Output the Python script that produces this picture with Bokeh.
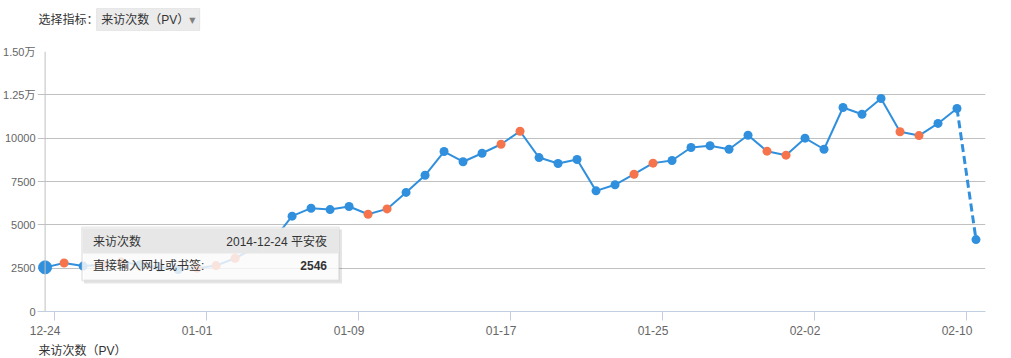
from bokeh.plotting import figure
from bokeh.layouts import column
from bokeh.models import FixedTicker, Span, BoxAnnotation, Label, ColumnDataSource
from bokeh.embed import file_html
from bokeh.resources import INLINE

# ---------------- data ----------------
dates = ["12-24", "12-25", "12-26", "12-27", "12-28", "12-29", "12-30", "12-31",
         "01-01", "01-02", "01-03", "01-04", "01-05", "01-06", "01-07", "01-08",
         "01-09", "01-10", "01-11", "01-12", "01-13", "01-14", "01-15", "01-16",
         "01-17", "01-18", "01-19", "01-20", "01-21", "01-22", "01-23", "01-24",
         "01-25", "01-26", "01-27", "01-28", "01-29", "01-30", "01-31", "02-01",
         "02-02", "02-03", "02-04", "02-05", "02-06", "02-07", "02-08", "02-09",
         "02-10", "02-11"]
pv = [2546, 2800, 2620, 2700, 2850, 2700, 2550, 2420,
      2500, 2650, 3070, 3650, 4100, 5500, 5960, 5880,
      6060, 5610, 5920, 6870, 7860, 9230, 8640, 9130,
      9650, 10400, 8880, 8540, 8770, 6960, 7310, 7920,
      8560, 8710, 9460, 9560, 9360, 10170, 9250, 9020,
      10000, 9360, 11770, 11380, 12290, 10370, 10150, 10850,
      11710, 4150]
# 1 = weekend / holiday (orange point), 0 = working day (blue point)
holiday = [0, 1, 0, 1, 1, 0, 0, 0,
           1, 1, 1, 0, 0, 0, 0, 0,
           0, 1, 1, 0, 0, 0, 0, 0,
           1, 1, 0, 0, 0, 0, 0, 1,
           1, 0, 0, 0, 0, 0, 1, 1,
           0, 0, 0, 0, 0, 1, 1, 0,
           0, 0]
x_tick_index = [0, 8, 16, 24, 32, 40, 48]
y_ticks = [0, 2500, 5000, 7500, 10000, 12500, 15000]
y_tick_labels = ["0", "2500", "5000", "7500", "10000", "1.25万", "1.50万"]
hover_index = 0
series_name = "来访次数（PV）"
selector_label = "选择指标："
tooltip_title = "来访次数"
tooltip_date = "2014-12-24 平安夜"
tooltip_row = "直接输入网址或书签:"

# ---------------- style ----------------
BLUE = "#3190dd"
ORANGE = "#f6744c"
GRID = "#c0c0c0"
AXIS = "#c0d0e0"
FONT = "Liberation Sans, Noto Sans CJK SC"
W = 1011
TOP_H = 40
MAIN_H = 300
BOT_H = 18
LF = 36.5        # approx frame left (px)
FB = 311         # frame bottom (px from page top)


def blank(h, y0):
    f = figure(width=W, height=h, x_range=(0, W), y_range=(y0 + h, y0),
               output_backend="svg", toolbar_location=None,
               x_axis_type=None, y_axis_type=None,
               min_border_left=0, min_border_right=0, min_border_top=0, min_border_bottom=0)
    f.outline_line_color = None
    f.xgrid.grid_line_color = None
    f.ygrid.grid_line_color = None
    return f


def text_on(fig, x, y, text, align="left", size="12px", color="#333333", style="normal",
            font=FONT, units="data", ref_left=0, ref_bottom=0):
    if units == "data":
        xx, yy = x, y
    else:
        xx, yy = x - ref_left, ref_bottom - y
    fig.add_layout(Label(x=xx, y=yy, x_units=units, y_units=units, text=text,
                         text_align=align, text_baseline="middle", text_font=font,
                         text_font_size=size, text_color=color, text_font_style=style))


# ---------------- top: metric selector ----------------
top = blank(TOP_H, 0)
top.add_layout(BoxAnnotation(left=63, right=173, top=8, bottom=30, fill_color="#ebebeb",
                             fill_alpha=1, line_color="#c6c6c6", line_width=1))
text_on(top, 1, 19, selector_label)
text_on(top, 68, 19, series_name)
text_on(top, 165, 20, "▼", align="center", size="8px", color="#808080", font="DejaVu Sans")

# ---------------- main chart ----------------
xs = list(range(len(dates)))
colors = [ORANGE if h else BLUE for h in holiday]
src = ColumnDataSource(dict(x=xs, y=pv, c=colors))

p = figure(width=W, height=MAIN_H, x_range=(-0.4, len(dates) - 0.5), y_range=(0, 15000),
           output_backend="svg", toolbar_location=None,
           min_border_left=35, min_border_right=26, min_border_top=11, min_border_bottom=29)
p.outline_line_color = None
p.xgrid.grid_line_color = None
p.ygrid.grid_line_color = GRID
p.ygrid.grid_line_width = 1

ya = p.yaxis[0]
ya.ticker = FixedTicker(ticks=y_ticks)
ya.major_label_overrides = {t: l for t, l in zip(y_ticks, y_tick_labels)}
ya.axis_line_color = None
ya.major_tick_line_color = None
ya.minor_tick_line_color = None
ya.major_tick_out = 0
ya.major_tick_in = 0
ya.major_label_standoff = 2
ya.major_label_text_font = FONT
ya.major_label_text_font_size = "11px"
ya.major_label_text_color = "#666666"

xa = p.xaxis[0]
xa.ticker = FixedTicker(ticks=x_tick_index, minor_ticks=[i + 0.5 for i in x_tick_index])
xa.major_label_overrides = {i: dates[i] for i in x_tick_index}
xa.axis_line_color = AXIS
xa.major_tick_line_color = None
xa.major_tick_out = 0
xa.major_tick_in = 0
xa.minor_tick_line_color = AXIS
xa.minor_tick_out = 9
xa.minor_tick_in = 0
xa.major_label_standoff = 5
xa.major_label_text_font = FONT
xa.major_label_text_font_size = "12px"
xa.major_label_text_color = "#666666"

# crosshair at hovered category
p.add_layout(Span(location=xs[hover_index], dimension="height", line_color=GRID, line_width=1))

p.line(xs[:-1], pv[:-1], line_color=BLUE, line_width=2)
p.line(xs[-2:], pv[-2:], line_color=BLUE, line_width=3, line_dash="8 4")
p.scatter("x", "y", source=src, size=9, fill_color="c", line_color="c", line_width=0)
p.scatter([xs[hover_index]], [pv[hover_index]], size=13, fill_color=BLUE, line_color=BLUE)


# tooltip (screen units relative to the frame)
def box(l, r, t, b, **kw):
    return BoxAnnotation(left=l - LF, right=r - LF, top=FB - t, bottom=FB - b,
                         left_units="screen", right_units="screen",
                         top_units="screen", bottom_units="screen", **kw)


p.add_layout(box(83, 341, 229, 283, fill_color="#000000", fill_alpha=0.10, line_color=None))
p.add_layout(box(81, 338, 227, 280, fill_color="white", fill_alpha=0.82,
                 line_color="#bcbcbc", line_width=2))
p.add_layout(box(82, 337, 228, 253, fill_color="#e6e6e6", fill_alpha=0.95, line_color=None))


def tip(x, y, text, **kw):
    text_on(p, x, y, text, units="screen", ref_left=LF, ref_bottom=FB, **kw)


tip(92, 241, tooltip_title)
tip(326, 241, tooltip_date, align="right")
tip(92, 265, tooltip_row)
tip(326, 265, str(pv[hover_index]), align="right", style="bold")

# ---------------- bottom: series label ----------------
bot = blank(BOT_H, TOP_H + MAIN_H)
text_on(bot, 1, 350, series_name)

layout = column(top, p, bot, spacing=0)
open("out.html", "w").write(file_html(layout, INLINE))
